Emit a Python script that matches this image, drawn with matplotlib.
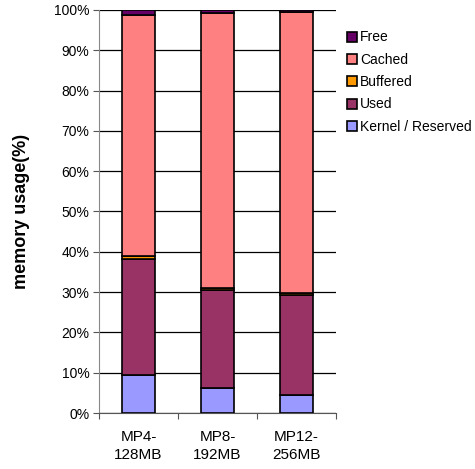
import matplotlib.pyplot as plt
import numpy as np

plt.rcParams['font.family'] = ['Liberation Sans', 'DejaVu Sans']

configs = ['MP4-\n128MB', 'MP8-\n192MB', 'MP12-\n256MB']
kernel = [9.5, 6.3, 4.5]
used = [28.8, 24.3, 24.9]
buffered = [0.6, 0.5, 0.3]
cached = [59.8, 68.1, 69.8]
free = [1.3, 0.8, 0.5]

series = [
    ('Kernel / Reserved', kernel, '#9999FF'),
    ('Used', used, '#993366'),
    ('Buffered', buffered, '#FF9900'),
    ('Cached', cached, '#FF8080'),
    ('Free', free, '#660066'),
]

fig = plt.figure(figsize=(4.75, 4.69), dpi=100)
ax = fig.add_axes([0.2084, 0.1194, 0.499, 0.8593])

x = np.arange(len(configs))
bottom = np.zeros(len(configs))
bars = []
for name, vals, col in series:
    b = ax.bar(x, vals, 0.41, bottom=bottom, color=col, edgecolor='black',
               linewidth=1.2, label=name, zorder=3)
    bars.append(b)
    bottom += np.array(vals)

ax.set_ylim(0, 100)
ax.set_xlim(-0.5, 2.5)
ax.set_yticks(np.arange(0, 101, 10))
ax.set_yticklabels(['%d%%' % v for v in range(0, 101, 10)], fontsize=10)
ax.yaxis.grid(True, color='black', linewidth=0.9, zorder=0)

# category labels sit between the boundary ticks
ax.set_xticks([-0.5, 0.5, 1.5, 2.5])
ax.set_xticklabels([])
ax.set_xticks(x, minor=True)
ax.set_xticklabels(configs, minor=True, fontsize=11, linespacing=1.4)
ax.tick_params(axis='x', which='minor', length=0, pad=12)
ax.tick_params(axis='x', which='major', length=4, color='#555555')
ax.tick_params(axis='y', length=4, color='#555555', pad=3)

for s in ['top', 'right']:
    ax.spines[s].set_visible(False)
ax.spines['left'].set_color('#888888')
ax.spines['bottom'].set_color('#555555')

ax.set_ylabel('memory usage(%)', fontsize=13, fontweight='bold')
ax.yaxis.set_label_coords(-0.29, 0.5)

handles = bars[::-1]
labels = [s[0] for s in series][::-1]
fig.legend(handles, labels, loc='upper left', bbox_to_anchor=(0.7305, 0.935),
           frameon=False, fontsize=10, handlelength=0.72, handleheight=0.72,
           handletextpad=0.2, labelspacing=0.6, borderaxespad=0, borderpad=0)

fig.savefig('out.png', dpi=100)
